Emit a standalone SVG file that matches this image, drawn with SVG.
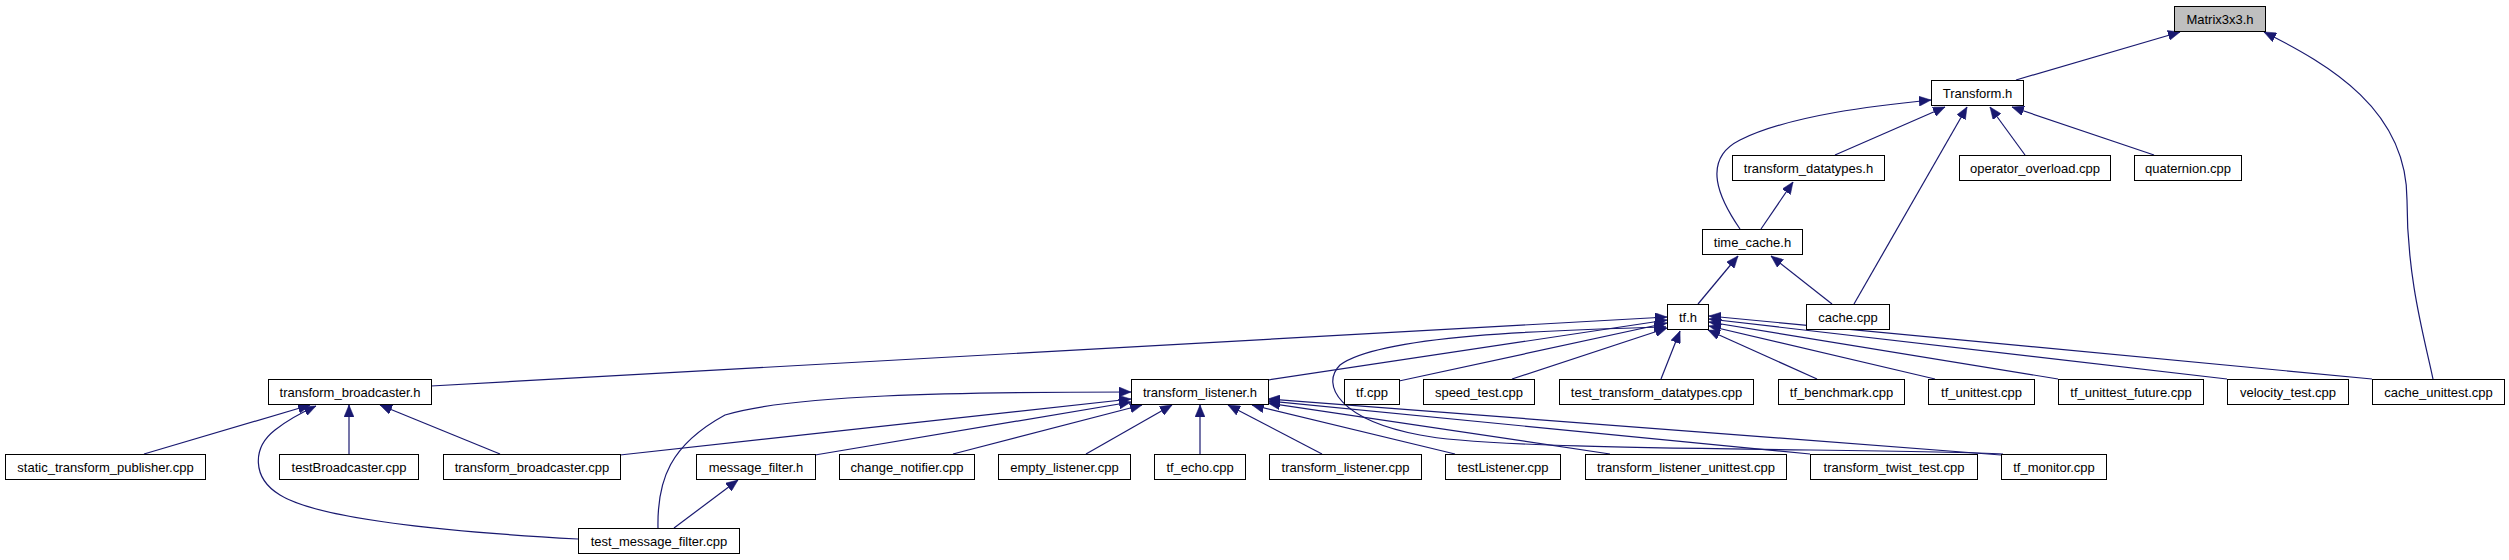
<svg xmlns="http://www.w3.org/2000/svg" width="2509" height="560" viewBox="0 0 2509 560">
<defs>
<style>
.n rect{fill:#fff;stroke:#000;stroke-width:1}
.n.g rect{fill:#bfbfbf}
.n text{font-family:"Liberation Sans",Arial,sans-serif;font-size:13px;fill:#000;text-anchor:middle}
.e path{fill:none;stroke:#191970;stroke-width:1.2;marker-end:url(#a)}
</style>
<marker id="a" markerUnits="userSpaceOnUse" markerWidth="12" markerHeight="10" refX="12" refY="5" orient="auto"><path d="M0,0 L12,5 L0,10 z" fill="#191970" stroke="#191970" stroke-width="0.5"/></marker>
</defs>
<rect width="2509" height="560" fill="#fff"/>
<g id="edges" class="e">
<path d="M2016,80 L2180,32"/>
<path d="M2433,379 C2425,340 2407,280 2407,200 C2407,110 2330,65 2264,32"/>
<path d="M2025,155 L1990,107"/>
<path d="M2154,155 L2012,107"/>
<path d="M1835,155 L1945,107"/>
<path d="M1740,229 C1720,200 1700,160 1740,140 C1790,115 1880,105 1931,100"/>
<path d="M1854,304 L1967,107"/>
<path d="M1761,229 L1793,182"/>
<path d="M1698,304 L1738,256"/>
<path d="M1832,304 L1771,256"/>
<path d="M431,386 L1667,317"/>
<path d="M1268,380 L1667,320"/>
<path d="M1399,381 L1667,323"/>
<path d="M1512,379 L1667,328"/>
<path d="M1661,379 L1680,331"/>
<path d="M1817,379 L1708,330"/>
<path d="M1935,379 L1709,326"/>
<path d="M2058,379 L1709,322"/>
<path d="M2227,379 L1709,319"/>
<path d="M2372,379 L1709,316"/>
<path d="M2003,454 C1900,448 1500,452 1420,435 C1340,420 1320,385 1340,365 C1380,335 1550,330 1666,327"/>
<path d="M658,528 C657,480 670,445 725,415 C790,395 950,392 1131,392"/>
<path d="M620,455 L1131,399"/>
<path d="M815,455 L1131,402"/>
<path d="M953,454 L1142,405"/>
<path d="M1086,454 L1172,405"/>
<path d="M1200,454 L1200,405"/>
<path d="M1322,454 L1228,405"/>
<path d="M1455,454 L1252,405"/>
<path d="M1610,454 L1268,403"/>
<path d="M1810,454 L1268,401"/>
<path d="M2001,455 L1268,399"/>
<path d="M144,454 L310,405"/>
<path d="M578,539 C450,532 320,520 280,495 C252,478 252,448 275,430 C290,418 305,411 316,406"/>
<path d="M349,454 L349,405"/>
<path d="M500,454 L380,405"/>
<path d="M674,528 L738,480"/>
</g>
<g id="n1" class="n g"><rect x="2174.5" y="6.5" width="91" height="25"/><text x="2220" y="23.5">Matrix3x3.h</text></g>
<g id="n2" class="n"><rect x="1931.5" y="80.5" width="92" height="25"/><text x="1977.5" y="97.5">Transform.h</text></g>
<g id="n3" class="n"><rect x="1732.5" y="155.5" width="152" height="25"/><text x="1808.5" y="172.5">transform_datatypes.h</text></g>
<g id="n4" class="n"><rect x="1959.5" y="155.5" width="151" height="25"/><text x="2035" y="172.5">operator_overload.cpp</text></g>
<g id="n5" class="n"><rect x="2134.5" y="155.5" width="107" height="25"/><text x="2188" y="172.5">quaternion.cpp</text></g>
<g id="n6" class="n"><rect x="1702.5" y="229.5" width="100" height="25"/><text x="1752.5" y="246.5">time_cache.h</text></g>
<g id="n7" class="n"><rect x="1667.5" y="304.5" width="41" height="25"/><text x="1688" y="321.5">tf.h</text></g>
<g id="n8" class="n"><rect x="1806.5" y="304.5" width="83" height="25"/><text x="1848" y="321.5">cache.cpp</text></g>
<g id="n9" class="n"><rect x="268.5" y="379.5" width="163" height="25"/><text x="350" y="396.5">transform_broadcaster.h</text></g>
<g id="n10" class="n"><rect x="1131.5" y="379.5" width="137" height="25"/><text x="1200" y="396.5">transform_listener.h</text></g>
<g id="n11" class="n"><rect x="1344.5" y="379.5" width="55" height="25"/><text x="1372" y="396.5">tf.cpp</text></g>
<g id="n12" class="n"><rect x="1423.5" y="379.5" width="111" height="25"/><text x="1479" y="396.5">speed_test.cpp</text></g>
<g id="n13" class="n"><rect x="1559.5" y="379.5" width="194" height="25"/><text x="1656.5" y="396.5">test_transform_datatypes.cpp</text></g>
<g id="n14" class="n"><rect x="1778.5" y="379.5" width="126" height="25"/><text x="1841.5" y="396.5">tf_benchmark.cpp</text></g>
<g id="n15" class="n"><rect x="1928.5" y="379.5" width="106" height="25"/><text x="1981.5" y="396.5">tf_unittest.cpp</text></g>
<g id="n16" class="n"><rect x="2058.5" y="379.5" width="145" height="25"/><text x="2131" y="396.5">tf_unittest_future.cpp</text></g>
<g id="n17" class="n"><rect x="2227.5" y="379.5" width="121" height="25"/><text x="2288" y="396.5">velocity_test.cpp</text></g>
<g id="n18" class="n"><rect x="2372.5" y="379.5" width="132" height="25"/><text x="2438.5" y="396.5">cache_unittest.cpp</text></g>
<g id="n19" class="n"><rect x="5.5" y="454.5" width="200" height="25"/><text x="105.5" y="471.5">static_transform_publisher.cpp</text></g>
<g id="n20" class="n"><rect x="279.5" y="454.5" width="139" height="25"/><text x="349" y="471.5">testBroadcaster.cpp</text></g>
<g id="n21" class="n"><rect x="443.5" y="454.5" width="177" height="25"/><text x="532" y="471.5">transform_broadcaster.cpp</text></g>
<g id="n22" class="n"><rect x="696.5" y="454.5" width="119" height="25"/><text x="756" y="471.5">message_filter.h</text></g>
<g id="n23" class="n"><rect x="839.5" y="454.5" width="135" height="25"/><text x="907" y="471.5">change_notifier.cpp</text></g>
<g id="n24" class="n"><rect x="998.5" y="454.5" width="132" height="25"/><text x="1064.5" y="471.5">empty_listener.cpp</text></g>
<g id="n25" class="n"><rect x="1154.5" y="454.5" width="91" height="25"/><text x="1200" y="471.5">tf_echo.cpp</text></g>
<g id="n26" class="n"><rect x="1269.5" y="454.5" width="152" height="25"/><text x="1345.5" y="471.5">transform_listener.cpp</text></g>
<g id="n27" class="n"><rect x="1445.5" y="454.5" width="115" height="25"/><text x="1503" y="471.5">testListener.cpp</text></g>
<g id="n28" class="n"><rect x="1585.5" y="454.5" width="201" height="25"/><text x="1686" y="471.5">transform_listener_unittest.cpp</text></g>
<g id="n29" class="n"><rect x="1810.5" y="454.5" width="167" height="25"/><text x="1894" y="471.5">transform_twist_test.cpp</text></g>
<g id="n30" class="n"><rect x="2001.5" y="454.5" width="105" height="25"/><text x="2054" y="471.5">tf_monitor.cpp</text></g>
<g id="n31" class="n"><rect x="578.5" y="528.5" width="161" height="25"/><text x="659" y="545.5">test_message_filter.cpp</text></g>
</svg>
